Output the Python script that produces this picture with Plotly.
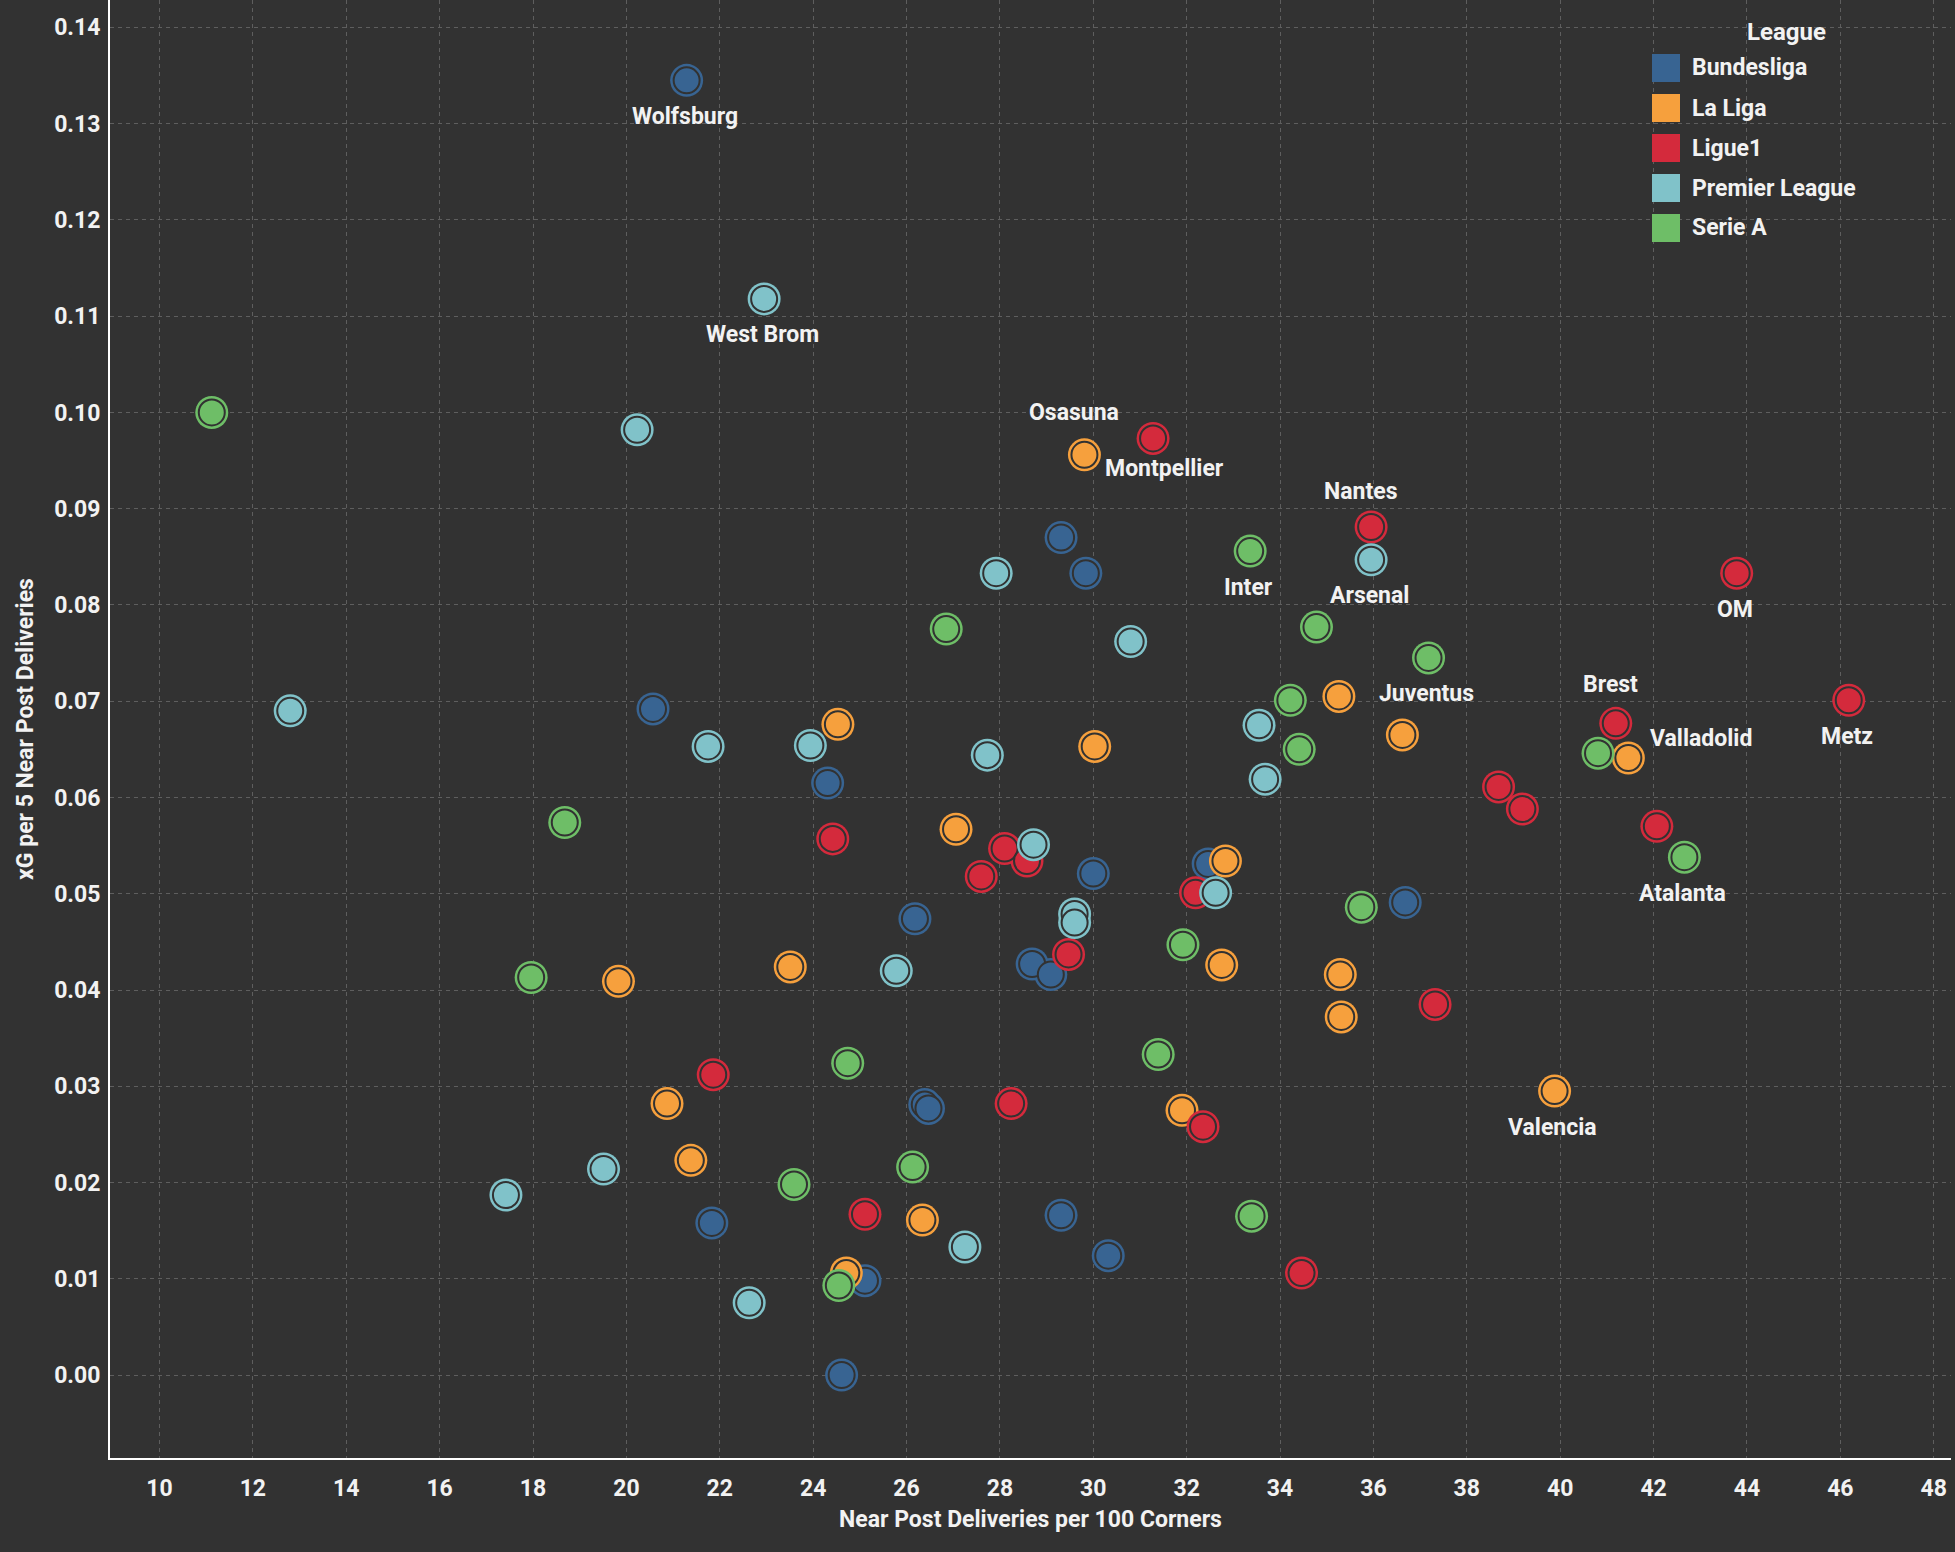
import plotly.graph_objects as go

leagues = ["Bundesliga", "La Liga", "Ligue1", "Premier League", "Serie A"]
colors = ["#386492", "#F6A03D", "#D42A3C", "#80C2C9", "#6EBE67"]

bund_x = [21.29, 20.57, 24.31, 29.31, 29.84, 30.00, 26.18, 32.46, 28.69, 29.09, 36.68, 26.39, 26.47, 21.83, 29.31, 30.32, 25.11, 24.61]
bund_y = [0.1345, 0.0692, 0.0615, 0.0870, 0.0833, 0.0521, 0.0474, 0.0531, 0.0427, 0.0416, 0.0491, 0.0281, 0.0277, 0.0158, 0.0166, 0.0124, 0.0098, 0.0000]
bund_n = ["Wolfsburg"] + [""] * 17

liga_x = [29.81, 24.53, 30.03, 35.26, 36.62, 41.46, 27.06, 32.83, 32.75, 23.51, 19.83, 35.29, 35.31, 39.88, 20.87, 31.90, 21.38, 26.34, 24.71]
liga_y = [0.0956, 0.0676, 0.0653, 0.0705, 0.0665, 0.0641, 0.0567, 0.0534, 0.0426, 0.0424, 0.0409, 0.0416, 0.0372, 0.0295, 0.0282, 0.0275, 0.0223, 0.0161, 0.0106]
liga_n = ["Osasuna", "", "", "", "", "Valladolid", "", "", "", "", "", "", "", "Valencia", "", "", "", "", ""]

l1_x = [31.28, 35.95, 43.78, 46.18, 41.19, 38.68, 39.19, 42.07, 24.42, 28.10, 28.58, 27.60, 32.19, 29.47, 37.32, 21.86, 28.24, 32.35, 25.11, 34.46]
l1_y = [0.0973, 0.0881, 0.0833, 0.0701, 0.0677, 0.0611, 0.0588, 0.0570, 0.0557, 0.0547, 0.0534, 0.0518, 0.0501, 0.0437, 0.0385, 0.0312, 0.0282, 0.0258, 0.0167, 0.0106]
l1_n = ["Montpellier", "Nantes", "OM", "Metz", "Brest"] + [""] * 15

pl_x = [22.95, 20.23, 12.80, 35.95, 27.92, 30.80, 33.55, 21.75, 23.94, 27.73, 33.68, 28.72, 32.62, 29.60, 29.60, 25.78, 19.51, 17.42, 27.25, 22.63]
pl_y = [0.1118, 0.0982, 0.0690, 0.0847, 0.0833, 0.0762, 0.0675, 0.0653, 0.0654, 0.0644, 0.0619, 0.0551, 0.0501, 0.0479, 0.0470, 0.0420, 0.0214, 0.0187, 0.0133, 0.0075]
pl_n = ["West Brom", "", "", "Arsenal"] + [""] * 16

sa_x = [11.12, 33.36, 34.78, 26.85, 37.18, 34.22, 34.41, 40.81, 42.66, 18.68, 35.74, 31.92, 17.96, 31.39, 24.74, 23.59, 26.13, 33.39, 24.55]
sa_y = [0.1000, 0.0856, 0.0777, 0.0775, 0.0745, 0.0701, 0.0650, 0.0646, 0.0538, 0.0574, 0.0486, 0.0447, 0.0413, 0.0333, 0.0324, 0.0198, 0.0216, 0.0165, 0.0093]
sa_n = ["", "Inter", "", "", "Juventus", "", "", "", "Atalanta"] + [""] * 10

series = [(bund_x, bund_y, bund_n), (liga_x, liga_y, liga_n), (l1_x, l1_y, l1_n),
          (pl_x, pl_y, pl_n), (sa_x, sa_y, sa_n)]

x_ticks = list(range(10, 49, 2))
y_ticks = [0.00, 0.01, 0.02, 0.03, 0.04, 0.05, 0.06, 0.07, 0.08, 0.09, 0.10, 0.11, 0.12, 0.13, 0.14]

# label offsets (px) : (xshift, yshift)
label_offsets = {
    "Osasuna": (-10, 42), "Montpellier": (11, -30), "Nantes": (-11, 36), "Brest": (-5, 39),
    "Valladolid": (73, 20),
}
default_offset = (-2, -36)

BG = "#323232"
FONT = "Roboto, 'Noto Sans', sans-serif"
TXT = "#f2f2f2"
FS = 23

fig = go.Figure()
annotations = []
for (xs, ys, ns), name, col in zip(series, leagues, colors):
    fig.add_trace(go.Scatter(x=xs, y=ys, mode="markers", name=name, showlegend=False,
                             marker=dict(size=33, color=col, line=dict(width=0)),
                             hoverinfo="skip"))
    fig.add_trace(go.Scatter(x=xs, y=ys, mode="markers", name=name, showlegend=False,
                             marker=dict(size=26, color=col, line=dict(width=2, color=BG)),
                             text=ns))
    for x, y, n in zip(xs, ys, ns):
        if n:
            dx, dy = label_offsets.get(n, default_offset)
            annotations.append(dict(x=x, y=y, text=n, showarrow=False, xshift=dx, yshift=dy,
                                    font=dict(family=FONT, size=FS, color=TXT, weight="bold")))

# manual legend (paper coords), plot area 110..1951 x, 0..1458 y
PL, PW, PH = 110, 1841, 1458
def px(xp):
    return (xp - PL) / PW
def py(yp):
    return (PH - yp) / PH

annotations.append(dict(xref="paper", yref="paper", x=px(1786), y=py(32), text="League",
                        showarrow=False, xanchor="center", yanchor="middle",
                        font=dict(family=FONT, size=24, color=TXT, weight="bold")))
shapes = []
for i, (name, col) in enumerate(zip(leagues, colors)):
    top = 54 + 40 * i
    shapes.append(dict(type="rect", xref="paper", yref="paper", x0=px(1652), x1=px(1680),
                       y0=py(top + 28), y1=py(top), fillcolor=col, line=dict(width=0)))
    annotations.append(dict(xref="paper", yref="paper", x=px(1690), y=py(top + 14), text=name,
                            showarrow=False, xanchor="left", yanchor="middle",
                            font=dict(family=FONT, size=FS, color=TXT, weight="bold")))

fig.update_layout(
    width=1955, height=1552,
    paper_bgcolor=BG, plot_bgcolor=BG,
    margin=dict(l=110, r=4, t=0, b=94),
    annotations=annotations, shapes=shapes,
    font=dict(family=FONT, color=TXT),
)
fig.update_xaxes(range=[8.94, 48.37], tickvals=x_ticks, ticktext=[str(v) for v in x_ticks],
                 showgrid=True, gridcolor="#5e5e5e", griddash="4px,4px", gridwidth=1,
                 zeroline=False, showline=True, linecolor="#ffffff", linewidth=2,
                 ticks="", ticklabelstandoff=8,
                 tickfont=dict(family=FONT, size=FS, color=TXT, weight="bold"),
                 title=dict(text="Near Post Deliveries per 100 Corners", standoff=10,
                            font=dict(family=FONT, size=FS, color=TXT, weight="bold")))
fig.update_yaxes(range=[-0.00862, 0.14285], tickvals=y_ticks, ticktext=[f"{v:.2f}" for v in y_ticks],
                 showgrid=True, gridcolor="#5e5e5e", griddash="4px,4px", gridwidth=1,
                 zeroline=False, showline=True, linecolor="#ffffff", linewidth=2,
                 ticks="", ticklabelstandoff=3,
                 tickfont=dict(family=FONT, size=FS, color=TXT, weight="bold"),
                 title=dict(text="xG per 5 Near Post Deliveries", standoff=14,
                            font=dict(family=FONT, size=FS, color=TXT, weight="bold")))

fig.write_html("out.html", config={"displayModeBar": False},
               post_script="document.body.style.margin='0';document.body.style.overflow='hidden';")
